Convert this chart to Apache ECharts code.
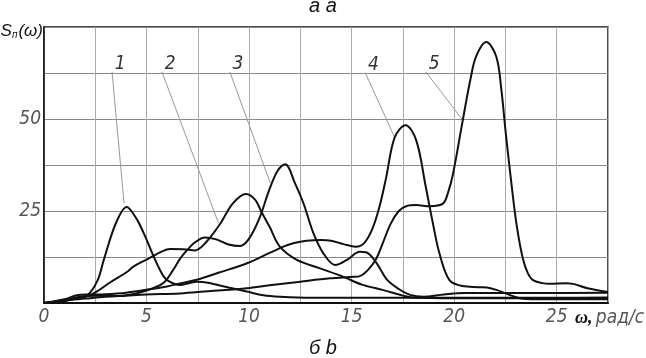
<!DOCTYPE html>
<html><head><meta charset="utf-8">
<script src="https://cdn.jsdelivr.net/npm/echarts@6/dist/echarts.min.js"></script>
<style>html,body{margin:0;padding:0;background:#fff}#c{width:646px;height:358px}</style>
</head><body><div id="c"></div>
<script>
// ω (rad/s), S(ω)
const curve1 = [[0,0],[1,0.6],[1.6,1.3],[2.1,2.0],[2.6,6],[2.93,12],[3.5,21.6],[4.03,26.1],[4.5,23],[4.9,18.5],[5.28,13.5],[5.7,8.5],[6.0,6.2],[6.67,4.9],[7.0,5.3],[7.45,5.8],[8.0,5.5],[9.0,4.2],[9.89,3.1],[10.7,2.1],[11.5,1.7],[13,1.4],[15,1.4],[20,1.4],[25,1.4],[27.5,1.5]];
const curve2 = [[0,0],[1,0.6],[2.1,1.8],[2.6,3.2],[3.2,5.5],[4.06,8.5],[4.36,9.9],[5.0,11.8],[5.5,13.3],[6.15,14.7],[6.8,14.6],[7.37,14.3],[7.9,16.5],[8.6,21.6],[9.2,27],[9.85,29.6],[10.3,28],[10.6,24.8],[11.0,20.7],[11.5,15.3],[12.33,11.7],[13.46,9.4],[14.6,7.1],[15.5,5.0],[16.55,3.5],[17.5,2.0],[18,1.5],[20,1.3],[27.5,1.3]];
const curve3 = [[0,0],[1,0.7],[1.8,1.8],[2.5,2.0],[3.2,1.9],[3.8,2.0],[4.5,2.6],[5.2,3.8],[5.85,5.6],[6.3,9],[6.63,12],[7.0,14.5],[7.32,16.3],[7.85,17.8],[8.4,17.3],[9.0,15.9],[9.56,15.5],[10.0,17.5],[10.5,23],[11.0,31],[11.4,36],[11.76,37.7],[12.24,32.5],[12.65,27.1],[13.14,18.9],[13.62,13.5],[14.2,10.3],[14.77,11.7],[15.4,13.9],[15.7,13.8],[16.2,11],[16.7,6.5],[17.3,3.8],[17.85,2.2],[18.5,1.7],[19.5,2.3],[20.5,2.7],[22,2.7],[24,2.7],[27.5,2.8]];
const curve4 = [[0,0],[1,1],[1.6,2.1],[2.2,2.3],[3,2.4],[4,2.8],[5,3.6],[6,4.5],[6.63,5.3],[7.45,6.3],[8.5,8.2],[9.9,10.8],[11.0,13.6],[11.67,15.3],[12.2,16.3],[12.8,16.9],[13.5,17.1],[14.0,16.9],[14.6,16.0],[15.2,15.3],[15.6,16.2],[16.0,20],[16.35,26],[16.68,34],[17.1,45],[17.63,48.3],[18.15,44.2],[18.6,32],[18.95,22],[19.28,13.5],[19.77,6.2],[20.4,4.6],[21.2,4.3],[21.6,4.2],[22.1,3.5],[22.6,2.4],[23.2,1.3],[24,1.0],[27.5,1.0]];
const curve5 = [[0,0],[1,0.7],[2,1.2],[3,1.7],[4,2.0],[5,2.3],[6.63,2.6],[8,3.2],[9.89,4.0],[11,4.8],[12.5,5.8],[13.95,6.7],[15.1,7.1],[15.4,7.3],[15.8,9],[16.2,12],[16.5,16],[16.9,21.5],[17.3,25],[17.66,26.3],[18.15,26.6],[18.8,26.3],[19.45,27],[19.7,30],[19.94,35],[20.42,49.7],[20.8,61],[21.07,67],[21.56,70.9],[22.05,67],[22.3,58],[22.5,47],[22.78,33],[23.05,21],[23.35,12],[23.6,8],[23.84,6.2],[24.3,5.4],[24.65,5.2],[25.46,5.4],[25.8,5.2],[26.5,4.0],[27.5,3.0]];
const curves = [curve1, curve2, curve3, curve4, curve5];
const curveNames = ['1','2','3','4','5'];
const leaderStart = [[3.32,62.7],[5.76,62.7],[9.07,62.7],[15.67,62.5],[18.63,62.7]];
const leaderEnd = [[3.9,27.3],[8.5,21.8],[11.02,32.8],[17.09,45.1],[20.42,49.7]];
const xTickLabels = [0,5,10,15,20,25];
const yTickLabels = [25,50];
const xMax = 27.5, xStep = 2.5, yMax = 75, yStep = 12.5;

const narrow = "'Liberation Sans Narrow','DejaVu Sans Condensed','Noto Sans Condensed','Liberation Sans',sans-serif";
const lblStyle = {fontFamily: narrow, fontStyle: 'italic', fontSize: 19, color: '#555'};

const series = curves.map((d, i) => ({
  name: curveNames[i], type: 'line', data: d, smooth: 0.35, symbol: 'none',
  lineStyle: {color: '#111', width: 2}, z: 3, silent: true
}));
curveNames.forEach((n, i) => {
  series.push({
    type: 'line', silent: true, z: 2,
    data: [{value: leaderStart[i], label: {show: true, formatter: n, position: 'top', distance: 0, offset: [8, 2], fontFamily: narrow, fontStyle: 'italic', fontSize: 19, color: '#333'}},
           {value: leaderEnd[i]}],
    symbol: 'circle', symbolSize: 1, itemStyle: {color: '#999'},
    lineStyle: {color: '#999', width: 1}
  });
});

const chart = echarts.init(document.getElementById('c'));
chart.setOption({
  animation: false,
  backgroundColor: '#fff',
  title: [
    {text: 'а a', left: 'center', top: -4, padding: 0, textStyle: {fontFamily: 'Liberation Sans', fontStyle: 'italic', fontWeight: 'normal', fontSize: 20, color: '#111'}},
    {text: 'б b', left: 'center', bottom: 0, padding: 0, textStyle: {fontFamily: 'Liberation Sans', fontStyle: 'italic', fontWeight: 'normal', fontSize: 20, color: '#111'}}
  ],
  grid: {left: 44, right: 38, top: 27, bottom: 55, show: true, borderColor: '#111', borderWidth: 1.5, containLabel: false, outerBoundsMode: 'none'},
  xAxis: {
    type: 'value', min: 0, max: xMax, interval: xStep,
    axisLine: {lineStyle: {color: '#111', width: 2}},
    axisTick: {show: false},
    splitLine: {show: true, lineStyle: {color: '#aaa', width: 1}},
    axisLabel: Object.assign({margin: 5, formatter: v => xTickLabels.includes(v) ? String(v) : ''}, lblStyle),
    name: '{w|ω,} {t|рад/с}', nameLocation: 'end', nameGap: -33,
    nameTextStyle: {align: 'left', verticalAlign: 'top', padding: [6, 0, 0, 0],
      rich: {w: {fontFamily: 'Liberation Serif', fontWeight: 'bold', fontStyle: 'italic', fontSize: 18, color: '#111'},
             t: {fontFamily: narrow, fontStyle: 'italic', fontSize: 19, color: '#555'}}}
  },
  yAxis: {
    type: 'value', min: 0, max: yMax, interval: yStep,
    axisLine: {show: true, lineStyle: {color: '#111', width: 1.5}},
    axisTick: {show: false},
    splitLine: {show: true, lineStyle: {color: '#888', width: 1}},
    axisLabel: Object.assign({margin: 3, formatter: v => yTickLabels.includes(v) ? String(v) : ''}, lblStyle),
    name: '{s|S}{sub|п}{s|(ω)}', nameLocation: 'end', nameGap: -4,
    nameTextStyle: {align: 'right', verticalAlign: 'middle', padding: [0, 1, 0, 0],
      rich: {s: {fontFamily: 'Liberation Sans', fontStyle: 'italic', fontSize: 17, color: '#111'},
             sub: {fontFamily: 'Liberation Sans', fontStyle: 'italic', fontSize: 10, color: '#111', verticalAlign: 'bottom', padding: [8, 1, 0, 0]}}}
  },
  series
});
</script></body></html>
